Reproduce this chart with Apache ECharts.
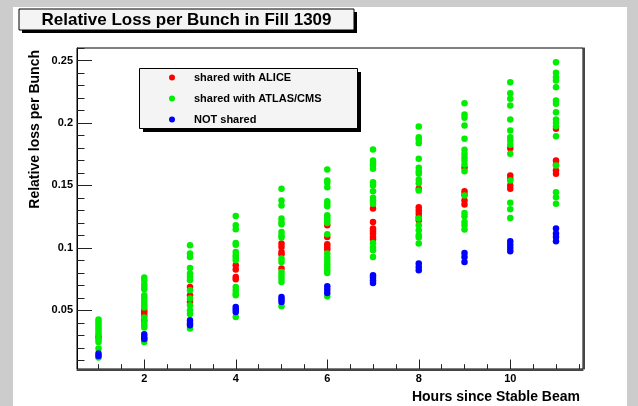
<!DOCTYPE html>
<html>
<head>
<meta charset="utf-8">
<script src="https://cdn.jsdelivr.net/npm/echarts@6/dist/echarts.min.js"></script>
<style>
  html, body { margin: 0; padding: 0; background: #cccccc; }
  #pad { position: absolute; left: 13px; top: 7px; width: 614px; height: 399px; background: #ffffff; }
  #chart { position: absolute; left: 0; top: 0; width: 638px; height: 406px; }
</style>
</head>
<body>
<div id="pad"></div>
<div id="chart"></div>
<script>
// Hours after stable beams were declared
const hours = [1, 2, 3, 4, 5, 6, 7, 8, 9, 10, 11];

// Relative loss of each bunch, grouped by hour
const aliceLoss = [
  [0.0286],
  [0.050, 0.0482, 0.046, 0.042],
  [0.0686, 0.062, 0.0566],
  [0.086, 0.0826, 0.0766, 0.0748],
  [0.1034, 0.1006, 0.0966, 0.0948, 0.0834],
  [0.118, 0.1086, 0.1028, 0.1006, 0.0986],
  [0.1314, 0.1206, 0.1154, 0.1134, 0.1114, 0.1086, 0.1066],
  [0.1474, 0.1326, 0.130, 0.1274, 0.1246, 0.122],
  [0.1642, 0.1454, 0.1428, 0.138, 0.1348],
  [0.1798, 0.158, 0.1554, 0.150, 0.1474],
  [0.1954, 0.170, 0.1666, 0.162, 0.1594]
];

const atlasCmsLoss = [
  [0.0426, 0.0406, 0.0388, 0.0366, 0.0348, 0.0326, 0.0308, 0.0266, 0.0246, 0.0194, 0.0122],
  [0.0762, 0.074, 0.0708, 0.0686, 0.0668, 0.062, 0.0602, 0.058, 0.0558, 0.054, 0.0522, 0.0442, 0.0402, 0.038, 0.0362, 0.0266, 0.0246],
  [0.102, 0.0954, 0.0926, 0.0839, 0.0794, 0.0766, 0.074, 0.066, 0.0594, 0.054, 0.050, 0.047, 0.0354],
  [0.1254, 0.118, 0.1148, 0.1038, 0.1025, 0.0966, 0.094, 0.0922, 0.090, 0.0686, 0.066, 0.0634, 0.062, 0.0446],
  [0.1474, 0.138, 0.134, 0.1234, 0.1206, 0.1188, 0.1126, 0.110, 0.1082, 0.0914, 0.0886, 0.0806, 0.078, 0.0754, 0.0726, 0.0532],
  [0.1628, 0.154, 0.1522, 0.1486, 0.1374, 0.1354, 0.1334, 0.126, 0.1242, 0.122, 0.1198, 0.1108, 0.0954, 0.0922, 0.0894, 0.0868, 0.0846, 0.082, 0.0798, 0.0612],
  [0.1788, 0.170, 0.1678, 0.166, 0.1634, 0.1526, 0.150, 0.1454, 0.1402, 0.138, 0.1354, 0.1038, 0.1002, 0.098, 0.0926],
  [0.1972, 0.1886, 0.1866, 0.1838, 0.1714, 0.1642, 0.1614, 0.1594, 0.1546, 0.1518, 0.146, 0.1234, 0.118, 0.114, 0.110, 0.1082, 0.1034],
  [0.2158, 0.2068, 0.2042, 0.198, 0.1874, 0.1786, 0.1754, 0.1726, 0.170, 0.1668, 0.1614, 0.142, 0.1278, 0.1252, 0.1206, 0.118, 0.1146],
  [0.2326, 0.2238, 0.2194, 0.214, 0.2028, 0.194, 0.1886, 0.186, 0.1826, 0.1754, 0.154, 0.1362, 0.1308, 0.1238],
  [0.2486, 0.2402, 0.2366, 0.234, 0.2286, 0.218, 0.2154, 0.2086, 0.2028, 0.2002, 0.1974, 0.1894, 0.166, 0.1446, 0.1406, 0.1354]
];

const notSharedLoss = [
  [0.0154, 0.0134],
  [0.0308, 0.0286, 0.027],
  [0.042, 0.0394, 0.038],
  [0.0526, 0.0506, 0.0486],
  [0.0606, 0.0586, 0.0566],
  [0.0692, 0.0666, 0.0638],
  [0.078, 0.0762, 0.074, 0.0718],
  [0.0874, 0.0846, 0.082],
  [0.0958, 0.0926, 0.0886],
  [0.1052, 0.1025, 0.0998, 0.0972],
  [0.1154, 0.1114, 0.1086, 0.1052]
];

const seriesNames = ['shared with ALICE', 'shared with ATLAS/CMS', 'NOT shared'];
const seriesColors = ['#ff0000', '#00ee00', '#0000ff'];

// Axis ticks and labels
const xMajorTicks = [2, 4, 6, 8, 10];
const yMajorTicks = [0.05, 0.1, 0.15, 0.2, 0.25];

const xMinorTicks = [];
for (let k = 1; k <= 23; k++) xMinorTicks.push(k / 2);
const yMinorTicks = [];
for (let k = 1; k <= 26; k++) yMinorTicks.push(k / 100);

const FONT = "'Liberation Sans', Arial, Helvetica, sans-serif";
const X_MIN = 0.53, X_MAX = 11.59, Y_MIN = 0.003, Y_MAX = 0.26;

function toPoints(groups) {
  const pts = [];
  groups.forEach((vals, i) => vals.forEach(v => pts.push([hours[i], v])));
  return pts;
}

const chart = echarts.init(document.getElementById('chart'), null, { renderer: 'canvas' });

const baseX = { type: 'value', min: X_MIN, max: X_MAX, gridIndex: 0, splitLine: { show: false } };
const baseY = { type: 'value', min: Y_MIN, max: Y_MAX, gridIndex: 0, splitLine: { show: false } };

chart.setOption({
  animation: false,
  backgroundColor: 'transparent',
  grid: {
    left: 77, top: 48, right: 55, bottom: 37,
    show: true, borderColor: '#000', borderWidth: 1, backgroundColor: '#ffffff'
  },
  xAxis: [
    Object.assign({}, baseX, {
      position: 'bottom',
      axisLine: { show: true, lineStyle: { color: '#ee0000', width: 1 } },
      axisTick: { show: true, inside: true, length: 9.5, customValues: xMajorTicks, lineStyle: { color: '#222', width: 1 } },
      axisLabel: { show: true, customValues: xMajorTicks, margin: 4, fontFamily: FONT, fontWeight: 'bold', fontSize: 11, color: '#000' },
      name: 'Hours since Stable Beam',
      nameLocation: 'end',
      nameGap: -3,
      nameTextStyle: { fontFamily: FONT, fontWeight: 'bold', fontSize: 14, color: '#000', align: 'right', verticalAlign: 'top', padding: [21, 0, 0, 0] }
    }),
    Object.assign({}, baseX, {
      position: 'bottom',
      axisLine: { show: false },
      axisTick: { show: true, inside: true, length: 4.8, customValues: xMinorTicks, lineStyle: { color: '#222', width: 1 } },
      axisLabel: { show: false }
    }),
    Object.assign({}, baseX, {
      position: 'bottom', offset: 1.5,
      axisLine: { show: true, lineStyle: { color: '#444', width: 1 } },
      axisTick: { show: false }, axisLabel: { show: false }
    })
  ],
  yAxis: [
    Object.assign({}, baseY, {
      position: 'left',
      axisLine: { show: true, lineStyle: { color: '#000', width: 1 } },
      axisTick: { show: true, inside: true, length: 15, customValues: yMajorTicks, lineStyle: { color: '#222', width: 1 } },
      axisLabel: { show: true, customValues: yMajorTicks, margin: 4, fontFamily: FONT, fontWeight: 'bold', fontSize: 11, color: '#000' },
      name: 'Relative loss per Bunch',
      nameLocation: 'end',
      nameRotate: 90,
      nameGap: -2,
      nameTextStyle: { fontFamily: FONT, fontWeight: 'bold', fontSize: 14, color: '#000', align: 'right', verticalAlign: 'bottom', padding: [0, 0, 35, 0] }
    }),
    Object.assign({}, baseY, {
      position: 'left',
      axisLine: { show: false },
      axisTick: { show: true, inside: true, length: 7.5, customValues: yMinorTicks, lineStyle: { color: '#222', width: 1 } },
      axisLabel: { show: false }
    }),
    Object.assign({}, baseY, {
      position: 'right',
      axisLine: { show: true, lineStyle: { color: '#ee0000', width: 1 } },
      axisTick: { show: false }, axisLabel: { show: false }
    }),
    Object.assign({}, baseY, {
      position: 'right', offset: 1.5,
      axisLine: { show: true, lineStyle: { color: '#444', width: 1 } },
      axisTick: { show: false }, axisLabel: { show: false }
    })
  ],
  legend: {
    orient: 'vertical',
    left: 164, top: 67,
    itemWidth: 6, itemHeight: 6, itemGap: 10,
    icon: 'circle',
    selectedMode: false,
    textStyle: { fontFamily: FONT, fontWeight: 'bold', fontSize: 11, color: '#000', padding: [0, 0, 0, 14] },
    data: seriesNames
  },
  graphic: [
    // title box with drop shadow
    { type: 'rect', z: 1, shape: { x: 22, y: 12, width: 335, height: 21 }, style: { fill: '#000' } },
    { type: 'rect', z: 1, shape: { x: 19, y: 9, width: 335, height: 21 }, style: { fill: '#f4f4f4', stroke: '#000', lineWidth: 1 } },
    { type: 'text', z: 2, x: 186.5, y: 20, style: { text: 'Relative Loss per Bunch in Fill 1309', fontFamily: FONT, fontWeight: 'bold', fontSize: 17, fill: '#000', align: 'center', verticalAlign: 'middle' } },
    // legend frame with drop shadow
    { type: 'rect', z: 3, shape: { x: 143, y: 72, width: 218, height: 60 }, style: { fill: '#000' } },
    { type: 'rect', z: 3, shape: { x: 139.5, y: 68.5, width: 218, height: 60 }, style: { fill: '#f4f4f4', stroke: '#000', lineWidth: 1 } }
  ],
  series: [
    { name: seriesNames[0], type: 'scatter', xAxisIndex: 0, yAxisIndex: 0, symbol: 'circle', symbolSize: 6.5, itemStyle: { color: seriesColors[0], opacity: 1 }, data: toPoints(aliceLoss) },
    { name: seriesNames[1], type: 'scatter', xAxisIndex: 0, yAxisIndex: 0, symbol: 'circle', symbolSize: 6.5, itemStyle: { color: seriesColors[1], opacity: 1 }, data: toPoints(atlasCmsLoss) },
    { name: seriesNames[2], type: 'scatter', xAxisIndex: 0, yAxisIndex: 0, symbol: 'circle', symbolSize: 6.5, itemStyle: { color: seriesColors[2], opacity: 1 }, data: toPoints(notSharedLoss) }
  ]
});
</script>
</body>
</html>
